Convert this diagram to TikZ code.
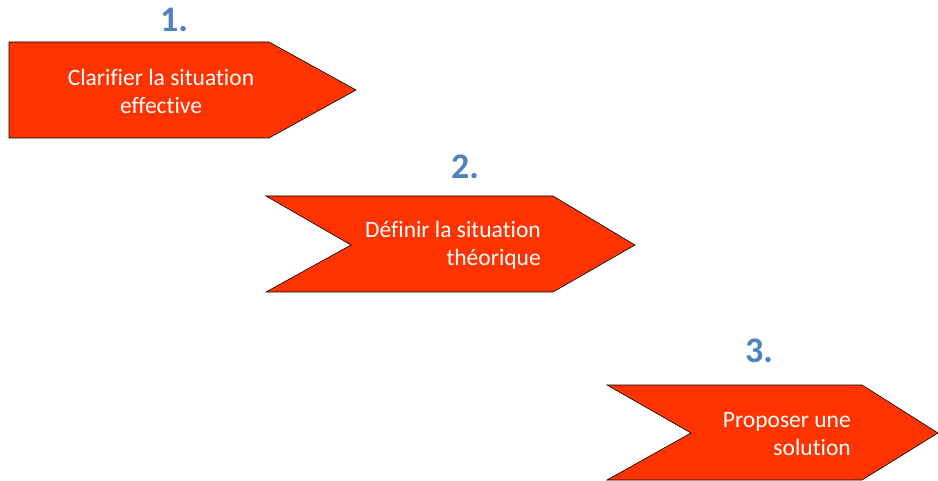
\documentclass[tikz,border=0pt]{standalone}
\usepackage{fontspec}
\setmainfont[Ligatures={NoCommon}]{Carlito}
\definecolor{arrowred}{HTML}{FF3300}
\definecolor{numblue}{HTML}{4F81BD}
\begin{document}
\begin{tikzpicture}[x=1pt,y=-1pt,
  chev/.style={fill=arrowred,draw=black,line width=0.6pt,line join=miter},
  lbl/.style={text=white,font=\fontsize{23.5}{28}\selectfont,inner sep=0pt},
  num/.style={text=numblue,font=\fontsize{36}{38}\selectfont\bfseries,inner sep=0pt}]
\useasboundingbox (0,0) rectangle (938,481);
\draw[chev] (9,42) -- (269,42) -- (356,90) -- (269,138) -- (9,138) -- cycle;
\draw[chev] (266,196) -- (553,196) -- (635,245) -- (553,292) -- (266,292) -- (351,245) -- cycle;
\draw[chev] (607,385) -- (862,385) -- (938,433) -- (862,480) -- (607,480) -- (691,433) -- cycle;
\node[num] (n1) at (174,20) {1.};
\node[num] (n2) at (465,167) {2.};
\node[num] (n3) at (759,351) {3.};
\node[lbl,align=center] (t1) at (161,91) {Clarifier la situation\\effective};
\node[lbl,align=right,anchor=east] (t2) at (541,245) {Définir la situation\\théorique};
\node[lbl,align=right,anchor=east] (t3) at (851,434) {Proposer une\\solution};
\end{tikzpicture}
\end{document}
